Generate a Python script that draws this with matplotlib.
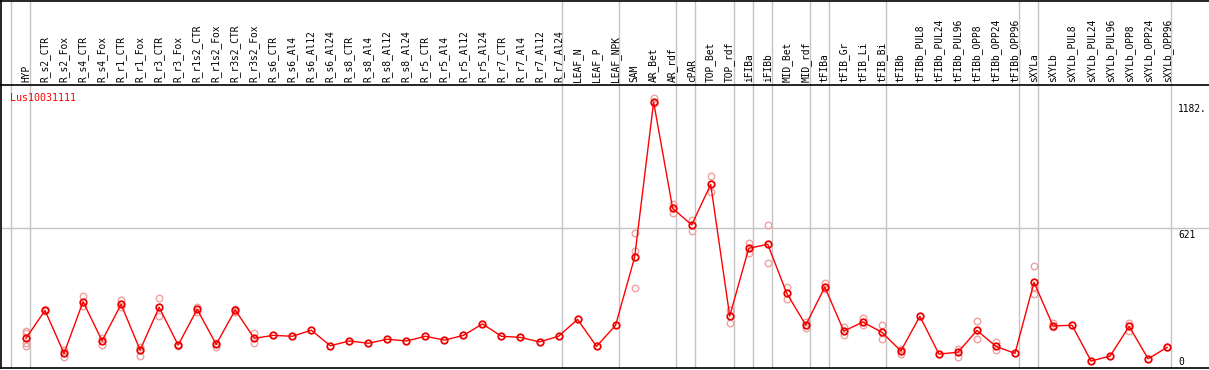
import matplotlib
matplotlib.use("Agg")
import matplotlib.pyplot as plt
import numpy as np

title = "Lus10031111"
categories = ["HYP", "R_s2_CTR", "R_s2_Fox", "R_s4_CTR", "R_s4_Fox", "R_r1_CTR", "R_r1_Fox",
              "R_r3_CTR", "R_r3_Fox", "R_r1s2_CTR", "R_r1s2_Fox", "R_r3s2_CTR", "R_r3s2_Fox",
              "R_s6_CTR", "R_s6_Al4", "R_s6_Al12", "R_s6_Al24", "R_s8_CTR", "R_s8_Al4",
              "R_s8_Al12", "R_s8_Al24", "R_r5_CTR", "R_r5_Al4", "R_r5_Al12", "R_r5_Al24",
              "R_r7_CTR", "R_r7_Al4", "R_r7_Al12", "R_r7_Al24", "LEAF_N", "LEAF_P", "LEAF_NPK",
              "SAM", "AR_Bet", "AR_rdf", "cPAR", "TOP_Bet", "TOP_rdf", "iFIBa", "iFIBb",
              "MID_Bet", "MID_rdf", "tFIBa", "tFIB_Gr", "tFIB_Li", "tFIB_Bi", "tFIBb",
              "tFIBb_PUL8", "tFIBb_PUL24", "tFIBb_PUL96", "tFIBb_OPP8", "tFIBb_OPP24",
              "tFIBb_OPP96", "sXYLa", "sXYLb", "sXYLb_PUL8", "sXYLb_PUL24", "sXYLb_PUL96",
              "sXYLb_OPP8", "sXYLb_OPP24", "sXYLb_OPP96"]

means = [132, 256, 65, 295, 121, 283, 80, 270, 102, 261, 105, 258, 132,
         145, 141, 168, 99, 120, 110, 128, 120, 141, 124, 145, 196,
         141, 136, 116, 141, 216, 96, 190,
         492, 1182, 710, 636, 816, 231, 532, 550, 332, 191,
         360, 164, 204, 159, 76, 230, 62, 70, 167, 96, 65,
         381, 187, 190, 31, 53, 185, 41, 92]

replicates = [[164, 156, 111, 98], [259, 252], [80, 50], [321, 276], [132, 102], [302, 272],
              [95, 53], [312, 231], [104, 100], [272, 250], [112, 95], [262, 250], [154, 110],
              [], [], [], [], [], [], [], [], [], [], [], [], [], [], [], [], [], [], [],
              [599, 521, 354], [1199, 1176], [727, 690], [658, 610], [853, 781], [258, 199],
              [557, 510], [636, 465], [360, 305], [206, 176],
              [376, 352], [184, 147], [224, 191], [191, 130], [84, 62], [], [], [84, 50],
              [209, 127], [114, 80], [],
              [453, 361, 329], [199, 182], [], [], [], [201, 166], [], [95]]

group_ends = [-1, 0, 28, 31, 34, 35, 37, 38, 39, 41, 42, 45, 52, 53, 60]
y_ticks = [0, 621, 1182]
y_tick_labels = ["0", "621", "1182."]

W, H = 1209, 370
fig = plt.figure(figsize=(W / 100, H / 100), dpi=100)
font = "DejaVu Sans Mono"
fs = 6.9

x = np.arange(len(categories))
xlim = (-1.314, 62.2)
ymax = 1258

ax = fig.add_axes([1 / W, 2 / H, (W - 1) / W, 283 / H])
hdr = fig.add_axes([1 / W, 285 / H, (W - 1) / W, 84.5 / H], sharex=ax)

for a in (ax, hdr):
    a.set_xlim(*xlim)
    a.tick_params(left=False, bottom=False, labelleft=False, labelbottom=False)
    a.set_yticks([])
    for s in a.spines.values():
        s.set_color("black")
        s.set_linewidth(1.2)
    a.spines["right"].set_visible(False)
    for g in group_ends:
        a.axvline(g + 0.2, color="#c4c4c4", lw=1.0, zorder=0)

ax.spines["top"].set_visible(False)
hdr.set_ylim(0, 1)
ax.set_ylim(0, ymax)

ax.axhline(621, color="#c4c4c4", lw=1.0, zorder=0)

for i, reps in enumerate(replicates):
    if reps:
        ax.plot([i] * len(reps), reps, linestyle="none", marker="o", ms=4.7, mfc="none",
                mec="#f0a0a0", mew=1.0, zorder=2)

ax.plot(x, means, color="#ff0000", lw=1.0, marker="o", ms=4.7, mfc="none",
        mec="#ee0000", mew=1.3, zorder=3)

for i, c in enumerate(categories):
    hdr.text(i, 0.03, c, rotation=90, ha="center", va="bottom", fontsize=fs,
             family=font, color="black")

ax.text(9 / W * (W / (W - 1)), 0.97, title, transform=ax.transAxes, ha="left", va="top",
        fontsize=fs + 0.3, family=font, color="#ff0000")

lx = (1178 - 1) / (W - 1)
for v, lab in zip(y_ticks, y_tick_labels):
    if v == 0:
        ax.text(lx, 6, lab, transform=ax.get_yaxis_transform(), ha="left", va="bottom",
                fontsize=fs, family=font)
    else:
        ax.text(lx, v - 8, lab, transform=ax.get_yaxis_transform(), ha="left", va="top",
                fontsize=fs, family=font)

fig.savefig("out.png", dpi=100)
